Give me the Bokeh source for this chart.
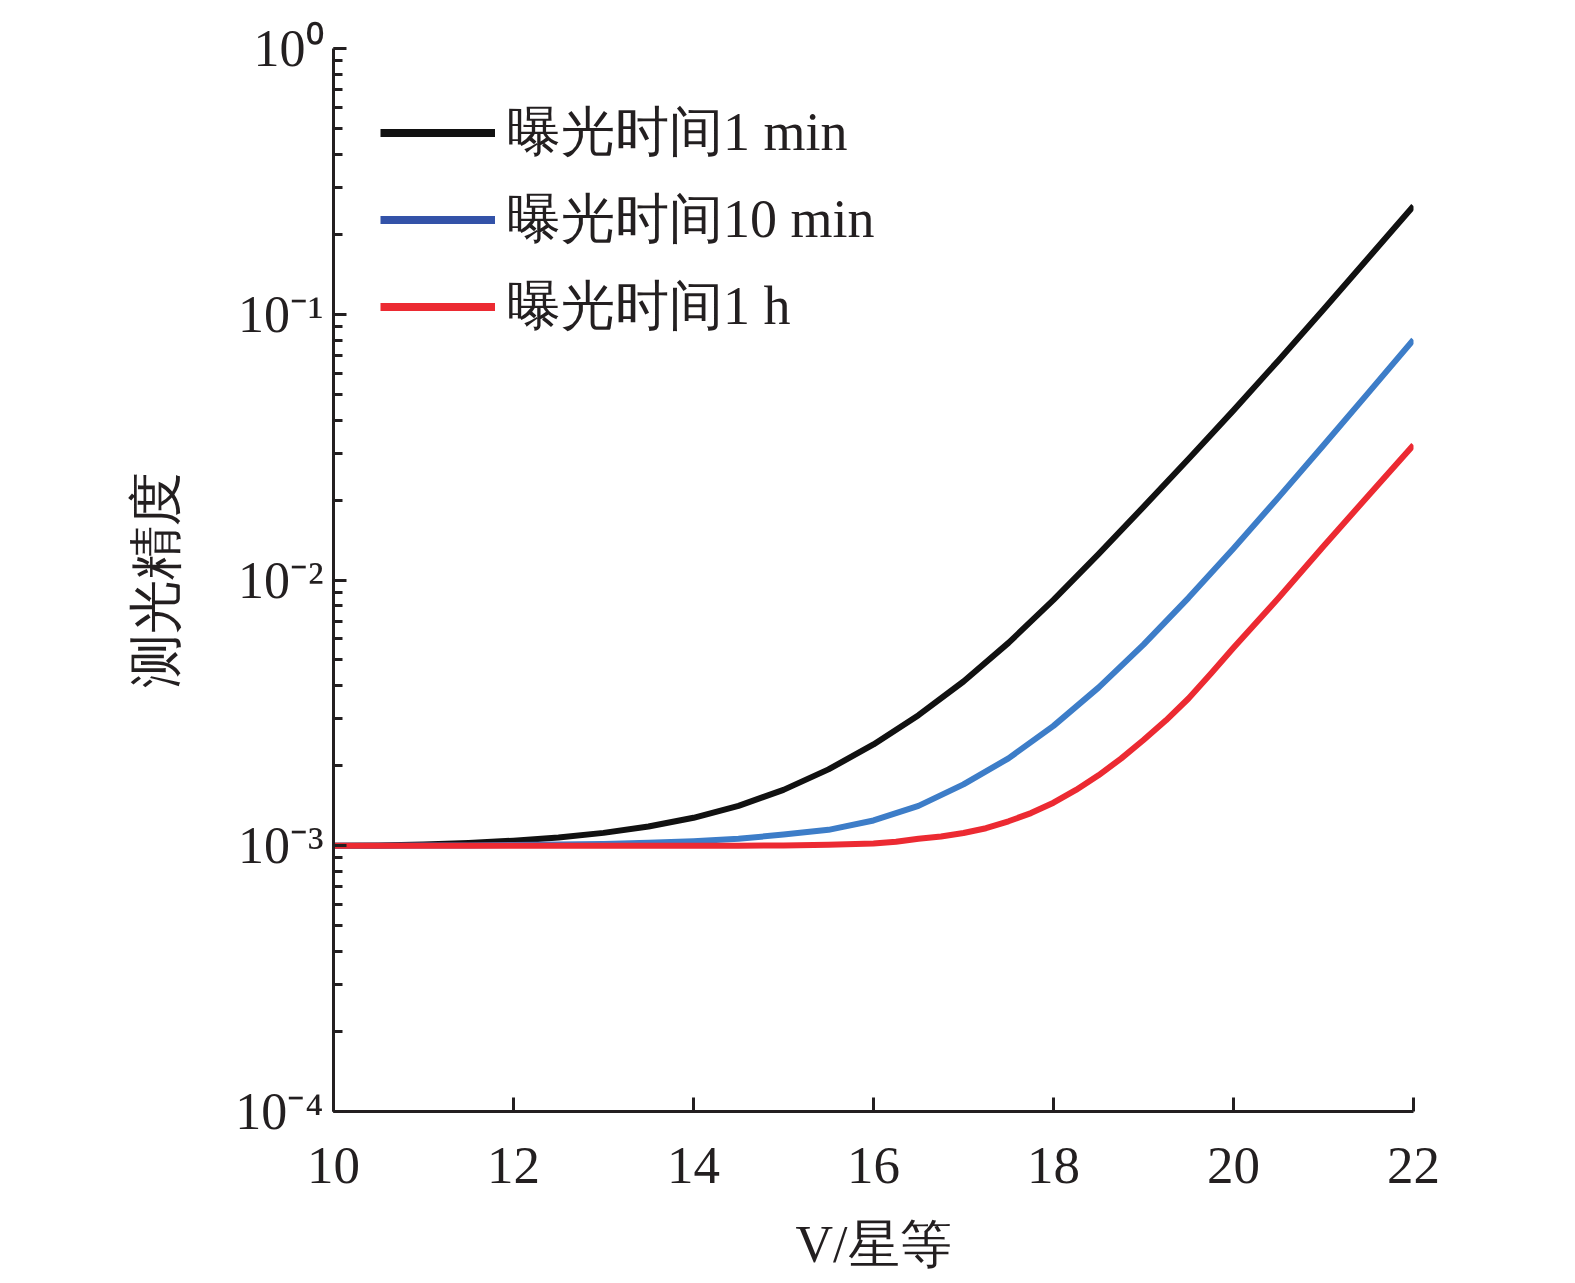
from bokeh.plotting import figure
from bokeh.models import (Range1d, Legend, LegendItem, CustomJSTickFormatter,
                          LogTicker, FixedTicker)
from bokeh.embed import file_html
from bokeh.resources import INLINE

# ---------------- data ----------------
mag = [10, 10.5, 11, 11.5, 12, 12.5, 13, 13.5, 14, 14.5, 15, 15.5, 16,
       16.5, 17, 17.5, 18, 18.5, 19, 19.5, 20, 20.5, 21, 21.5, 22]

prec_1min = [1.000e-3, 1.003e-3, 1.010e-3, 1.024e-3, 1.045e-3, 1.075e-3, 1.118e-3,
             1.181e-3, 1.274e-3, 1.413e-3, 1.623e-3, 1.938e-3, 2.405e-3, 3.099e-3,
             4.151e-3, 5.799e-3, 8.420e-3, 1.251e-2, 1.885e-2, 2.852e-2, 4.348e-2,
             6.704e-2, 1.043e-1, 1.631e-1, 2.555e-1]

prec_10min = [1.000e-3, 1.0005e-3, 1.0014e-3, 1.0032e-3, 1.006e-3, 1.010e-3, 1.016e-3,
              1.026e-3, 1.040e-3, 1.062e-3, 1.102e-3, 1.148e-3, 1.245e-3, 1.413e-3,
              1.702e-3, 2.133e-3, 2.825e-3, 3.936e-3, 5.715e-3, 8.570e-3, 1.315e-2,
              2.046e-2, 3.214e-2, 5.070e-2, 8.017e-2]

mag_1h = [10, 11, 12, 13, 14, 14.5, 15, 15.5, 16, 16.25, 16.5, 16.75, 17, 17.25,
          17.5, 17.75, 18, 18.25, 18.5, 18.75, 19, 19.25, 19.5, 19.75, 20,
          20.5, 21, 21.5, 22]
prec_1h = [1.000e-3, 1.000e-3, 1.000e-3, 1.000e-3, 1.000e-3, 1.001e-3, 1.003e-3,
           1.008e-3, 1.019e-3, 1.035e-3, 1.062e-3, 1.084e-3, 1.117e-3, 1.164e-3,
           1.236e-3, 1.327e-3, 1.452e-3, 1.622e-3, 1.841e-3, 2.128e-3, 2.500e-3,
           2.965e-3, 3.581e-3, 4.446e-3, 5.559e-3, 8.551e-3, 1.340e-2, 2.080e-2,
           3.221e-2]

series_labels = ["曝光时间1 min", "曝光时间10 min", "曝光时间1 h"]
x_ticks = [10, 12, 14, 16, 18, 20, 22]
y_tick_labels = ["10⁻⁴", "10⁻³", "10⁻²", "10⁻¹", "10⁰"]
y_label = "测光精度"
x_label = "V/星等"

# ---------------- styles ----------------
INK = "#231f20"
curve_colors = ["#111111", "#3d7dc8", "#ec2a32"]
legend_colors = ["#111111", "#3352a8", "#ec2a32"]
SERIF = "Liberation Serif"

p = figure(frame_width=1080, frame_height=1063, y_axis_type="log",
           x_range=Range1d(10, 22), y_range=Range1d(1e-4, 1),
           output_backend="svg", toolbar_location=None,
           min_border_left=333, min_border_right=132,
           min_border_top=48, min_border_bottom=0)
p.outline_line_color = None
p.xgrid.visible = False
p.ygrid.visible = False
p.background_fill_color = "white"
p.border_fill_color = "white"

# curves
series = [(mag, prec_1min), (mag, prec_10min), (mag_1h, prec_1h)]
for (xs, ys), c in zip(series, curve_colors):
    p.line(xs, ys, line_color=c, line_width=6, line_join="round")

# legend proxies (single point -> nothing drawn in the plot)
proxies = []
for c in legend_colors:
    proxies.append(p.line([mag[0]], [prec_1h[0]], line_color=c, line_width=8))

legend = Legend(items=[LegendItem(label=l, renderers=[r]) for l, r in zip(series_labels, proxies)],
                location=(47, 761), orientation="vertical",
                glyph_width=115, glyph_height=87, label_height=87, spacing=0,
                padding=0, margin=0, label_standoff=12,
                label_text_font=SERIF, label_text_font_size="54px",
                label_text_color=INK, label_text_baseline="middle",
                border_line_color=None, background_fill_alpha=0)
p.add_layout(legend)

# x axis
xa = p.xaxis[0]
xa.ticker = FixedTicker(ticks=x_ticks, minor_ticks=[])
xa.axis_line_width = 3
xa.axis_line_color = INK
xa.major_tick_line_width = 3
xa.major_tick_line_color = INK
xa.major_tick_in = 14
xa.major_tick_out = 0
xa.minor_tick_line_color = None
xa.major_label_text_font = SERIF
xa.major_label_text_font_size = "53px"
xa.major_label_text_color = INK
xa.major_label_standoff = 36
xa.axis_label = x_label
xa.axis_label_text_font = SERIF
xa.axis_label_text_font_size = "52px"
xa.axis_label_text_font_style = "normal"
xa.axis_label_text_color = INK
xa.axis_label_standoff = 30

# y axis
ya = p.yaxis[0]
ya.ticker = LogTicker(num_minor_ticks=10)
ya.formatter = CustomJSTickFormatter(args=dict(labels=y_tick_labels),
                                     code="const e = Math.round(Math.log10(tick)); return labels[e + 4];")
ya.axis_line_width = 3
ya.axis_line_color = INK
ya.major_tick_line_width = 3
ya.major_tick_line_color = INK
ya.minor_tick_line_width = 3
ya.minor_tick_line_color = INK
ya.major_tick_in = 13
ya.major_tick_out = 0
ya.minor_tick_in = 9
ya.minor_tick_out = 0
ya.major_label_text_font = SERIF
ya.major_label_text_font_size = "52px"
ya.major_label_text_color = INK
ya.major_label_standoff = 10
ya.axis_label = y_label
ya.axis_label_text_font = SERIF
ya.axis_label_text_font_size = "54px"
ya.axis_label_text_font_style = "normal"
ya.axis_label_text_color = INK
ya.axis_label_standoff = 46

open("out.html", "w").write(file_html(p, INLINE))
